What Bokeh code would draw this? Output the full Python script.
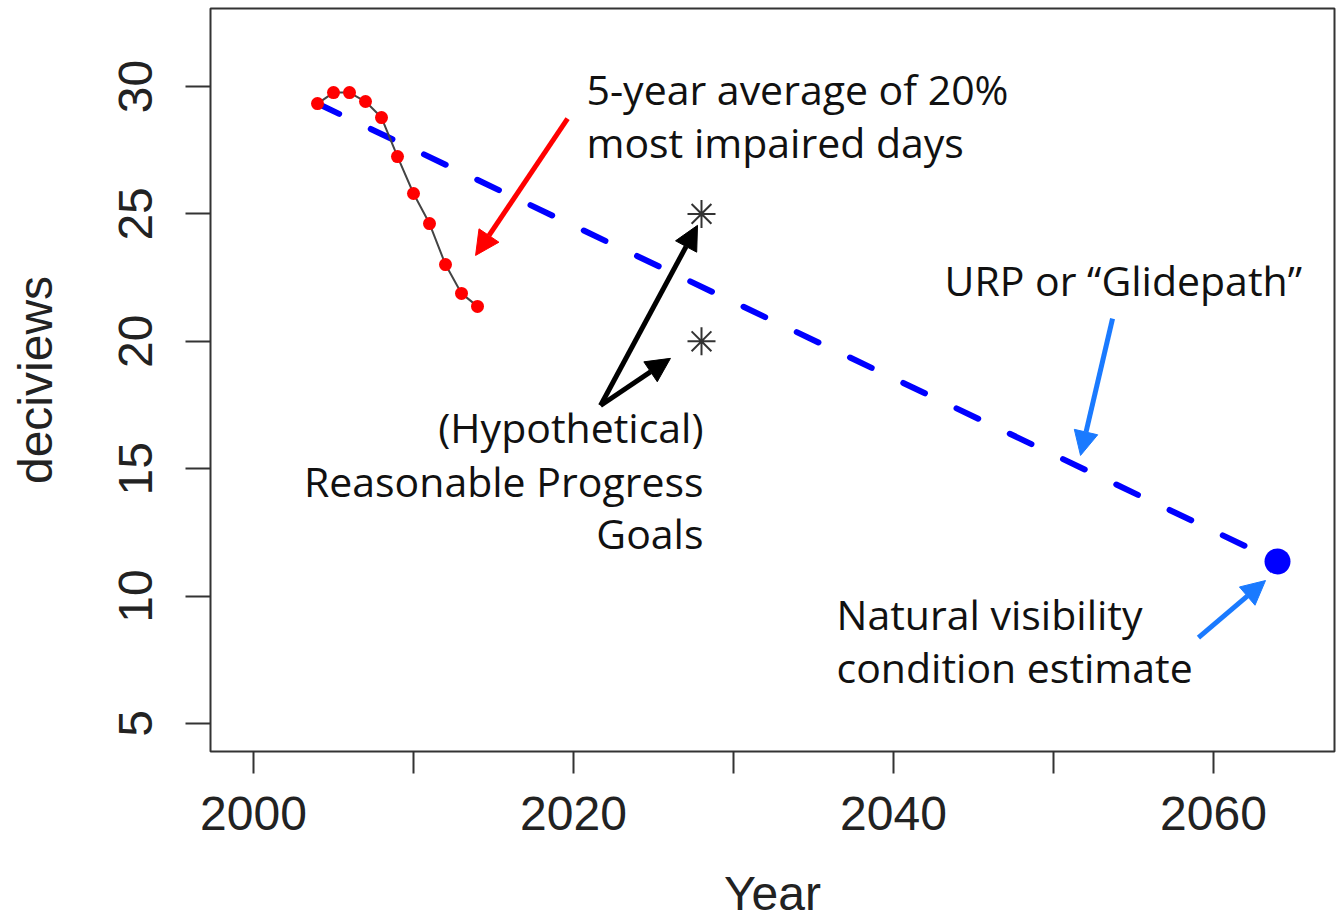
from bokeh.plotting import figure
from bokeh.models import Range1d, FixedTicker, Label, Arrow, NormalHead
from bokeh.embed import file_html
from bokeh.resources import INLINE

# ---- data ----
years = [2004, 2005, 2006, 2007, 2008, 2009, 2010, 2011, 2012, 2013, 2014]
deciviews = [29.33, 29.76, 29.76, 29.41, 28.78, 27.25, 25.80, 24.62, 23.01, 21.88, 21.37]
glide_years = [2004, 2064]
glide_values = [29.33, 11.36]
goal_years = [2028, 2028]
goal_values = [25, 20]
natural_year = [2064]
natural_value = [11.36]
x_ticks = [2000, 2010, 2020, 2030, 2040, 2050, 2060]
x_tick_labels = ["2000", "", "2020", "", "2040", "", "2060"]
y_ticks = [5, 10, 15, 20, 25, 30]

p = figure(width=1336, height=923, output_backend="svg", toolbar_location=None,
           x_range=Range1d(1997.3125, 2067.5625), y_range=Range1d(3.901, 33.061),
           min_border_left=210, min_border_right=2, min_border_top=8, min_border_bottom=172,
           x_axis_label="Year", y_axis_label="deciviews")

p.background_fill_color = "white"
p.border_fill_color = "white"
p.outline_line_color = "#333333"
p.outline_line_width = 2
p.grid.visible = False

for ax in (p.xaxis[0], p.yaxis[0]):
    ax.axis_line_color = None
    ax.major_tick_line_color = "#333333"
    ax.major_tick_line_width = 2
    ax.major_tick_in = 0
    ax.minor_tick_line_color = None
    ax.major_label_text_font = "Liberation Sans"
    ax.major_label_text_font_size = "48px"
    ax.major_label_text_color = "#222222"
    ax.axis_label_text_font = "Liberation Sans"
    ax.axis_label_text_font_size = "48px"
    ax.axis_label_text_font_style = "normal"
    ax.axis_label_text_color = "#222222"

p.xaxis.ticker = FixedTicker(ticks=x_ticks)
p.xaxis.major_label_overrides = {t: l for t, l in zip(x_ticks, x_tick_labels)}
p.xaxis.major_tick_out = 22
p.xaxis.major_label_standoff = 23
p.xaxis.axis_label_standoff = 34

p.yaxis.ticker = FixedTicker(ticks=y_ticks)
p.yaxis.major_tick_out = 25
p.yaxis.major_label_orientation = "vertical"
p.yaxis.major_label_standoff = 33
p.yaxis.axis_label_standoff = 55

# ---- glyphs ----
p.line(glide_years, glide_values, line_color="#0000ff", line_width=6,
       line_dash="24 35", line_cap="round")
p.line(years, deciviews, line_color="#444444", line_width=2)
p.scatter(years, deciviews, size=13, fill_color="#ff0000", line_color=None)
p.scatter(goal_years, goal_values, marker="asterisk", size=28,
          line_color="#333333", line_width=2)
p.scatter(natural_year, natural_value, size=26, fill_color="#0000ff", line_color=None)

# ---- annotations ----
def arrow(x0, y0, x1, y1, color):
    p.add_layout(Arrow(end=NormalHead(size=24, fill_color=color, line_color=color, line_width=1),
                       x_start=x0, y_start=y0, x_end=x1, y_end=y1,
                       line_color=color, line_width=5))

arrow(2019.63, 28.74, 2013.88, 23.37, "#ff0000")
arrow(2021.69, 17.48, 2027.75, 24.55, "#000000")
arrow(2021.69, 17.48, 2026.06, 19.33, "#000000")
arrow(2053.69, 20.89, 2051.69, 15.52, "#1a7aff")
arrow(2059.06, 8.37, 2063.25, 10.61, "#1a7aff")

def label(x, y, text, align="left"):
    p.add_layout(Label(x=x, y=y, text=text, text_align=align, text_baseline="alphabetic",
                       text_font="Open Sans", text_font_size="41px", text_color="#111111"))

label(2020.81, 29.92, "5-year average of 20%")
label(2020.81, 27.84, "most impaired days")
label(2028.125, 16.62, "(Hypothetical)", "right")
label(2028.125, 14.50, "Reasonable Progress", "right")
label(2028.125, 12.46, "Goals", "right")
label(2043.19, 22.39, "URP or \u201cGlidepath\u201d")
label(2036.44, 9.28, "Natural visibility")
label(2036.44, 7.20, "condition estimate")

open("out.html", "w").write(file_html(p, INLINE))
